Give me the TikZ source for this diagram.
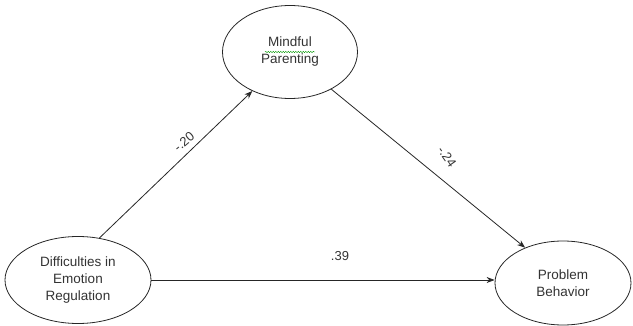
\documentclass[tikz,border=0pt]{standalone}
\usepackage{fontspec}
\setmainfont{Liberation Sans}
\usetikzlibrary{shapes.geometric,arrows.meta,decorations.pathmorphing}
\begin{document}
\begin{tikzpicture}[x=1pt,y=-1pt,
  var/.style={draw=black!85,line width=0.8pt,ellipse,align=center,inner sep=0pt,
    font=\fontsize{13.5}{17}\selectfont,text=black!80},
  link/.style={draw=black!85,line width=0.8pt,-{Stealth[length=8pt,width=6pt]}},
  lbl/.style={font=\fontsize{13}{15}\selectfont,text=black!80,inner sep=0pt}]
\useasboundingbox (0,0) rectangle (633,326);
\node[var,minimum width=135pt,minimum height=93pt] (mp) at (290,52) {Mindful\\Parenting};
\node[var,minimum width=146pt,minimum height=87pt] (der) at (78,280) {Difficulties in\\Emotion\\Regulation};
\node[var,minimum width=136pt,minimum height=84pt] (pb) at (563,283) {Problem\\Behavior};
\draw[link] (der.63) -- (mp.226);
\draw[link] (mp.318) -- (pb.137);
\draw[link] (der.east) -- (der.east -| pb.west);
\node[lbl,rotate=40] (l1) at (184,142) {-.20};
\node[lbl,rotate=-55] (l2) at (447,157) {-.24};
\node[lbl] (l3) at (340,256) {.39};
\draw[green!60!black,line width=0.4pt,decorate,decoration={snake,amplitude=0.7pt,segment length=2.5pt}]
  ([xshift=-25pt,yshift=0pt]mp.center) -- ([xshift=25pt,yshift=0pt]mp.center);
\end{tikzpicture}
\end{document}
